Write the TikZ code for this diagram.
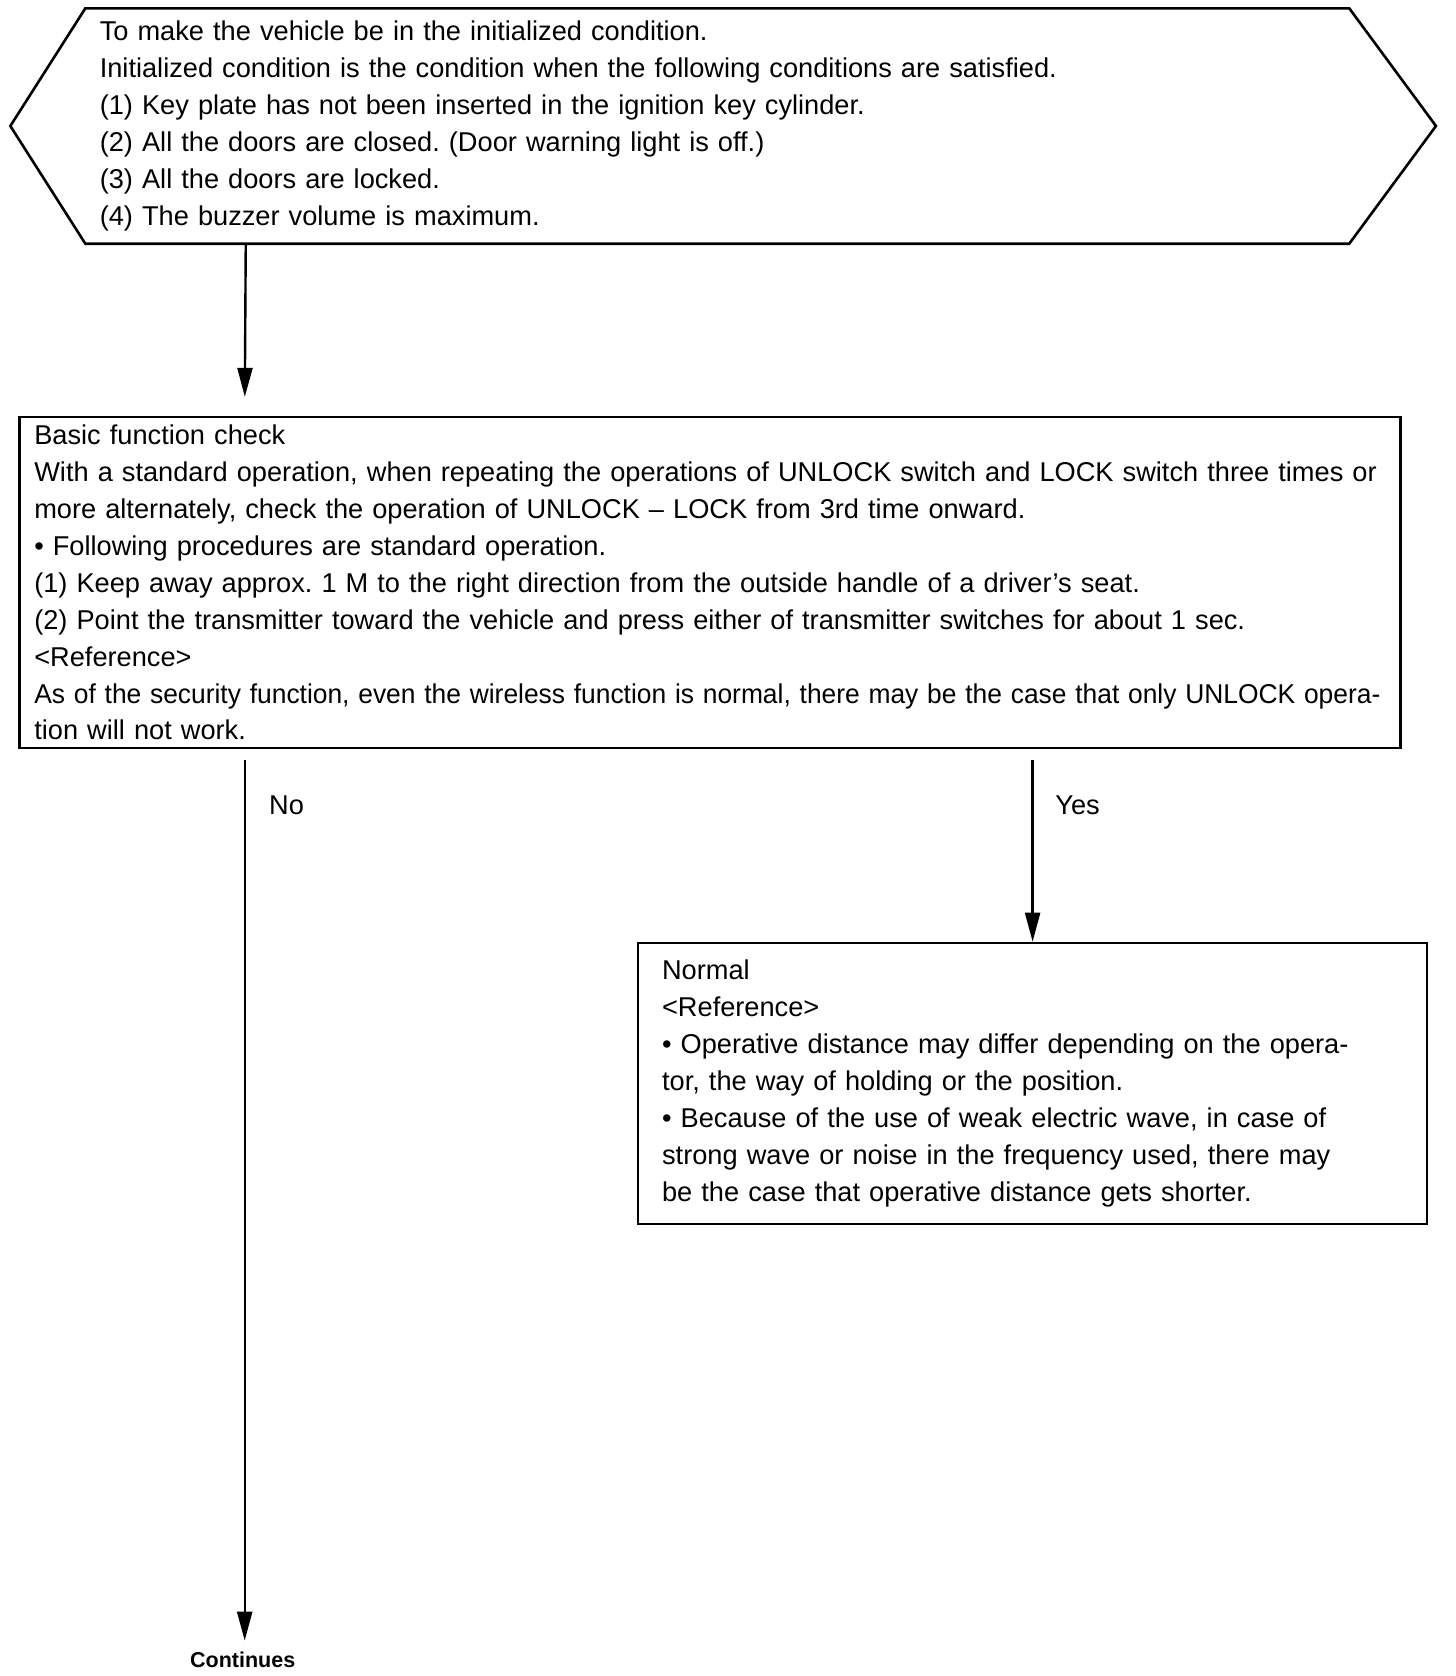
\documentclass[tikz,border=0pt]{standalone}
\usepackage{fontspec}
\usepackage{graphicx}
\setmainfont{Liberation Sans}
\frenchspacing
\usetikzlibrary{arrows.meta}
\tikzset{
  txt/.style={font=\fontsize{27.2}{36.9}\selectfont, align=left, inner ysep=0pt},
  box/.style={txt, draw, line width=2.6pt},
  flow/.style={line width=2.4pt, -{Triangle[length=29pt,width=15pt]}},
}
\begin{document}
\begin{tikzpicture}[x=1pt,y=-1pt]
    \useasboundingbox (0,0) rectangle (1456,1676);
    % initial condition
    \node[txt, minimum width=1263.5pt, minimum height=235pt, inner xsep=14pt, text width=1235pt]
        (init) at (717.3,126) {To make the vehicle be in the initialized condition.\\
        Initialized condition is the condition when the following conditions are satisfied.\\
        (1) Key plate has not been inserted in the ignition key cylinder.\\
        (2) All the doors are closed. (Door warning light is off.)\\
        (3) All the doors are locked.\\
        (4) The buzzer volume is maximum.};
    \draw[line width=2.6pt, line join=miter] (init.north west) -- (init.north east) -- ([xshift=86.7pt]init.east)
        -- (init.south east) -- (init.south west) -- ([xshift=-75pt]init.west) -- cycle;
    % basic function check
    \node[box, minimum width=1381pt, minimum height=331pt, inner xsep=15pt, text width=1351pt]
        (check) at (709.8,582.6) {Basic function check\\
        \mbox{With a standard operation, when repeating the operations of UNLOCK switch and LOCK switch three times or}\\
        more alternately, check the operation of UNLOCK -- LOCK from 3rd time onward.\\
        \textbullet{} Following procedures are standard operation.\\
        (1) Keep away approx. 1 M to the right direction from the outside handle of a driver's seat.\\
        (2) Point the transmitter toward the vehicle and press either of transmitter switches for about 1 sec.\\
        <Reference>\\
        \scalebox{0.97}[1]{As of the security function, even the wireless function is normal, there may be the case that only UNLOCK opera-}\\
        tion will not work.};
    \draw[flow, shorten >=19pt] ([xshift=160.4pt]init.south west) -- ([xshift=226.7pt]check.north west);
    % result: normal
    \node[box, minimum width=789pt, minimum height=281pt, inner xsep=24pt, text width=741pt]
        (normal) at (1032.6,1083.5) {Normal\\
        <Reference>\\
        \textbullet{} Operative distance may differ depending on the opera-\\
        tor, the way of holding or the position.\\
        \textbullet{} Because of the use of weak electric wave, in case of\\
        strong wave or noise in the frequency used, there may\\
        be the case that operative distance gets shorter.};
    \node[font=\bfseries\fontsize{21.5}{24}\selectfont] (cont) at (242.7,1660) {Continues};
    % branches
    \node[txt] (no) at (286.5,805) {No};
    \node[txt] (yes) at (1077.6,805) {Yes};
    \draw[flow, shorten <=10.7pt] (check.south -| normal.north) -- (normal.north);
    \draw[flow, shorten <=10.7pt, shorten >=8pt] ([xshift=226.7pt]check.south west)
        -- ([xshift=226.7pt]check.south west |- cont.north);
\end{tikzpicture}
\end{document}
